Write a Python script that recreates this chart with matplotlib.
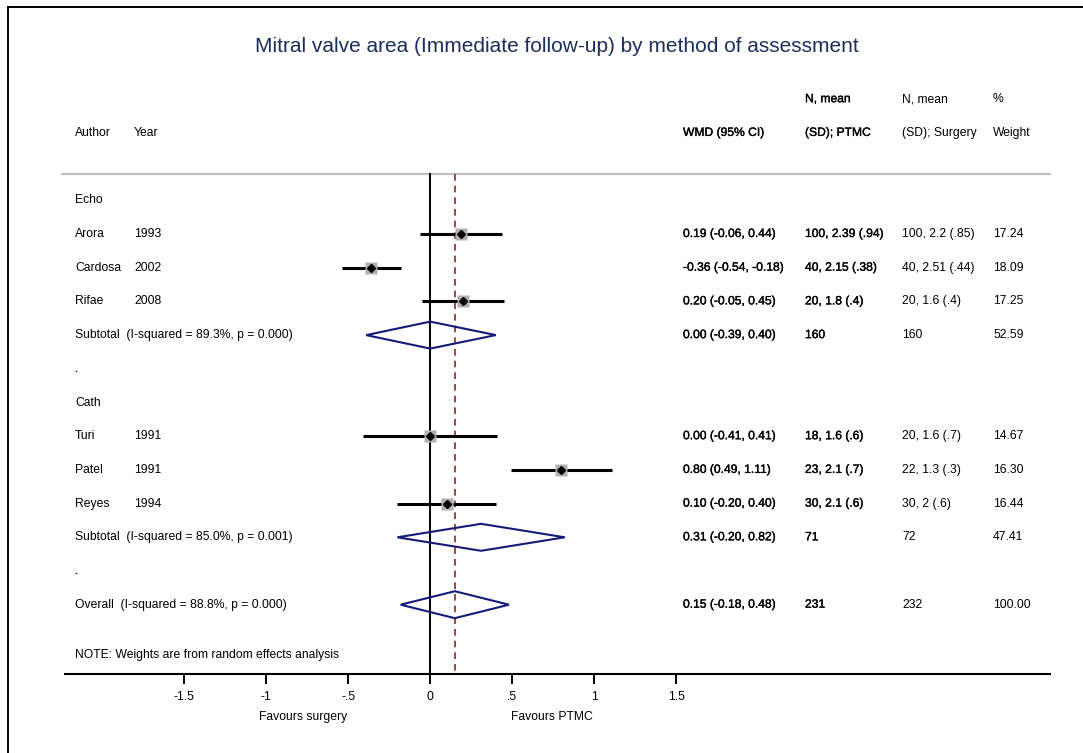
import matplotlib
matplotlib.use("Agg")
import matplotlib.pyplot as plt
import matplotlib.patheffects as pe
from matplotlib.lines import Line2D
from matplotlib.patches import Polygon
import matplotlib.transforms as mtransforms

plt.rcParams["font.family"] = ["Liberation Sans", "DejaVu Sans"]

# study data
groups = ["Echo", "Cath"]
authors = ["Arora", "Cardosa", "Rifae", "Turi", "Patel", "Reyes"]
years = ["1993", "2002", "2008", "1991", "1991", "1994"]
study_group = [0, 0, 0, 1, 1, 1]
wmd = [0.19, -0.36, 0.20, 0.00, 0.80, 0.10]
ci_lo = [-0.06, -0.54, -0.05, -0.41, 0.49, -0.20]
ci_hi = [0.44, -0.18, 0.45, 0.41, 1.11, 0.40]
n_ptmc = [100, 40, 20, 18, 23, 30]
mean_ptmc = [2.39, 2.15, 1.8, 1.6, 2.1, 2.1]
sd_ptmc = [0.94, 0.38, 0.4, 0.6, 0.7, 0.6]
n_surg = [100, 40, 20, 20, 22, 30]
mean_surg = [2.2, 2.51, 1.6, 1.6, 1.3, 2]
sd_surg = [0.85, 0.44, 0.4, 0.7, 0.3, 0.6]
weights = [17.24, 18.09, 17.25, 14.67, 16.30, 16.44]

# pooled estimates: two subtotals then overall
pooled_labels = ["Subtotal  (I-squared = 89.3%, p = 0.000)",
                 "Subtotal  (I-squared = 85.0%, p = 0.001)",
                 "Overall  (I-squared = 88.8%, p = 0.000)"]
pooled_est = [0.00, 0.31, 0.15]
pooled_lo = [-0.39, -0.20, -0.18]
pooled_hi = [0.40, 0.82, 0.48]
pooled_n_ptmc = [160, 71, 231]
pooled_n_surg = [160, 72, 232]
pooled_w = [52.59, 47.41, 100.00]

xticks = [-1.5, -1, -0.5, 0, 0.5, 1, 1.5]
xtick_labels = ["-1.5", "-1", "-.5", "0", ".5", "1", "1.5"]

NAVY = "#141a78"
FS = 8.7

W_PX, H_PX = 1083, 753
fig = plt.figure(figsize=(W_PX / 100, H_PX / 100), dpi=100)
fig.patch.set_facecolor("white")

ax_left, ax_right, ax_bot, ax_top = 64.5, 1050, 674, 80
ax = fig.add_axes([ax_left / W_PX, 1 - ax_bot / H_PX,
                   (ax_right - ax_left) / W_PX, (ax_bot - ax_top) / H_PX])
x0_px, unit_px = 430.2, 164.07
ax.set_xlim((ax_left - x0_px) / unit_px, (ax_right - x0_px) / unit_px)
row0_px, row_px = 200.3, 33.7
ax.set_ylim((ax_bot - row0_px) / row_px, (ax_top - row0_px) / row_px)

for s in ["top", "right", "left"]:
    ax.spines[s].set_visible(False)
ax.spines["bottom"].set_linewidth(1.5)
ax.set_yticks([])
ax.set_xticks(xticks)
ax.set_xticklabels(xtick_labels)
ax.tick_params(axis="x", length=7, width=1.4, pad=5, labelsize=FS)


# column x positions (data units)
def px(x):
    return (x - x0_px) / unit_px


c_author, c_year = px(75), px(134)
c_wmd, c_ptmc, c_surg, c_w = px(683), px(805), px(902), px(993)

bold = [pe.withStroke(linewidth=0.25, foreground="black")]


def txt(x, y, s, heavy=False):
    ax.text(x, y, s, fontsize=FS, va="center", ha="left", color="black",
            path_effects=bold if heavy else None)


def sd_fmt(v):
    s = f"{v:g}"
    return s[1:] if s.startswith("0") else s


# headers
txt(c_ptmc, -3, "N, mean", True)
txt(c_surg, -3, "N, mean")
txt(c_w, -3, "%")
txt(c_author, -2, "Author")
txt(c_year, -2, "Year")
txt(c_wmd, -2, "WMD (95% CI)", True)
txt(c_ptmc, -2, "(SD); PTMC", True)
txt(c_surg, -2, "(SD); Surgery")
txt(c_w, -2, "Weight")

line_top = (173.5 - row0_px) / row_px
ax.plot([ax.get_xlim()[0] - 0.015, ax.get_xlim()[1]], [line_top, line_top],
        color="#c0c0c0", lw=1.6, clip_on=False)

bottom = ax.get_ylim()[0]
ax.plot([0, 0], [line_top, bottom], color="black", lw=1.4, zorder=2)
ax.plot([pooled_est[2]] * 2, [line_top, bottom], color="#8b2a2a", lw=1.2,
        dashes=(4, 3), zorder=2)


def diamond(y, est, lo, hi):
    h = 0.4
    ax.add_patch(Polygon([[lo, y], [est, y - h], [hi, y], [est, y + h]],
                         closed=True, fill=False, ec=NAVY, lw=1.5, zorder=4))


row = 0
for g, gname in enumerate(groups):
    txt(c_author, row, gname)
    row += 1
    for i in range(len(authors)):
        if study_group[i] != g:
            continue
        txt(c_author, row, authors[i])
        txt(c_year, row, years[i])
        ax.plot([ci_lo[i], ci_hi[i]], [row, row], color="black", lw=2.2,
                solid_capstyle="butt", zorder=3)
        size = 9.0 * (weights[i] / 17.0) ** 0.5
        ax.plot(wmd[i], row, marker="s", ms=size, color="#b0b0b0",
                mec="none", zorder=4)
        ax.plot(wmd[i], row, marker="D", ms=4.2, color="black", zorder=5)
        txt(c_wmd, row, f"{wmd[i]:.2f} ({ci_lo[i]:.2f}, {ci_hi[i]:.2f})", True)
        txt(c_ptmc, row, f"{n_ptmc[i]}, {mean_ptmc[i]:g} ({sd_fmt(sd_ptmc[i])})", True)
        txt(c_surg, row, f"{n_surg[i]}, {mean_surg[i]:g} ({sd_fmt(sd_surg[i])})")
        txt(c_w, row, f"{weights[i]:.2f}")
        row += 1
    txt(c_author, row, pooled_labels[g])
    diamond(row, pooled_est[g], pooled_lo[g], pooled_hi[g])
    txt(c_wmd, row, f"{pooled_est[g]:.2f} ({pooled_lo[g]:.2f}, {pooled_hi[g]:.2f})", True)
    txt(c_ptmc, row, f"{pooled_n_ptmc[g]}", True)
    txt(c_surg, row, f"{pooled_n_surg[g]}")
    txt(c_w, row, f"{pooled_w[g]:.2f}")
    row += 1
    txt(c_author, row, ".", True)
    row += 1

txt(c_author, row, pooled_labels[2])
diamond(row, pooled_est[2], pooled_lo[2], pooled_hi[2])
txt(c_wmd, row, f"{pooled_est[2]:.2f} ({pooled_lo[2]:.2f}, {pooled_hi[2]:.2f})", True)
txt(c_ptmc, row, f"{pooled_n_ptmc[2]}", True)
txt(c_surg, row, f"{pooled_n_surg[2]}")
txt(c_w, row, f"{pooled_w[2]:.2f}")
txt(c_author, row + 1.5, "NOTE: Weights are from random effects analysis")

# favours labels under the axis
trans = mtransforms.blended_transform_factory(ax.transData, fig.transFigure)
ax.text(px(303), 1 - 717 / H_PX, "Favours surgery", transform=trans,
        ha="center", va="center", fontsize=FS)
ax.text(px(552), 1 - 717 / H_PX, "Favours PTMC", transform=trans,
        ha="center", va="center", fontsize=FS)

fig.text(557 / W_PX, 1 - 47 / H_PX,
         "Mitral valve area (Immediate follow-up) by method of assessment",
         ha="center", va="center", fontsize=15, color="#1c2f5c")

# outer frame (only top and left edges show)
fig.add_artist(Line2D([8 / W_PX, 1], [1 - 7 / H_PX] * 2, color="black", lw=1.4))
fig.add_artist(Line2D([8 / W_PX] * 2, [0, 1 - 7 / H_PX], color="black", lw=1.4))

fig.savefig("out.png", dpi=100)
